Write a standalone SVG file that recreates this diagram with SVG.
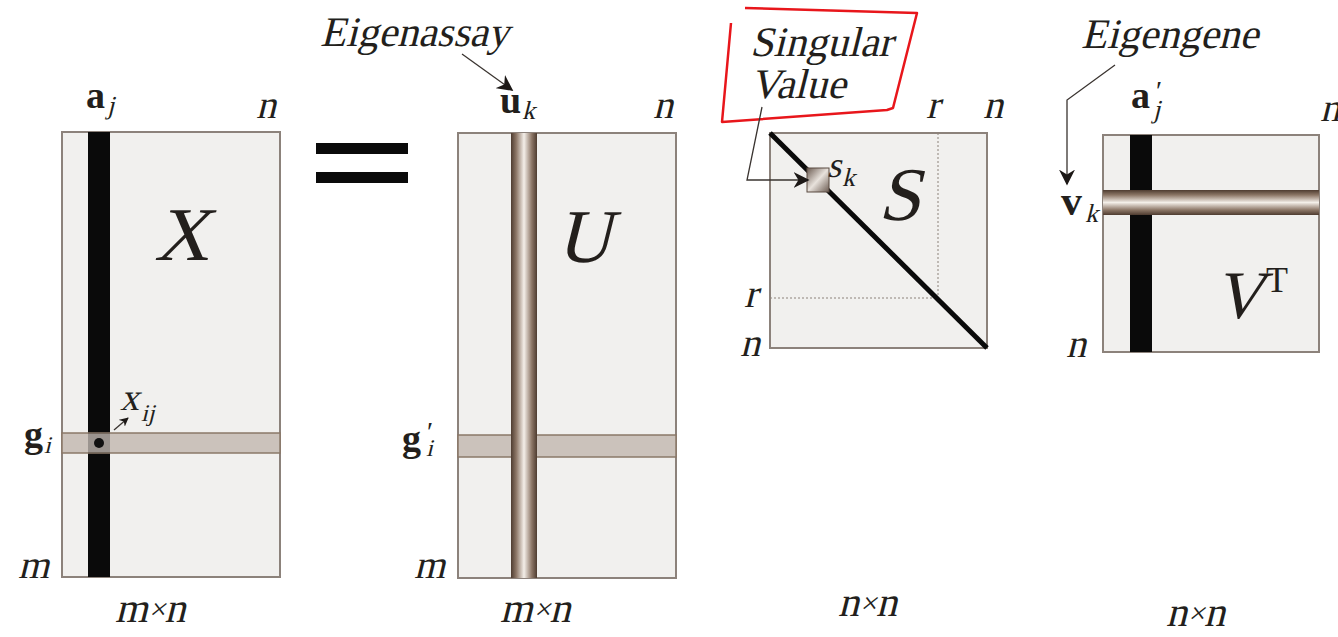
<svg xmlns="http://www.w3.org/2000/svg" width="1338" height="637" viewBox="0 0 1338 637">
<style>
.mat{fill:#f1f0ee;stroke:#8c827b;stroke-width:2}
.it{font-family:'Liberation Serif','Times New Roman',serif;font-style:normal;fill:#231f1c}
.bd{font-family:'Liberation Serif','Times New Roman',serif;font-weight:bold;fill:#231f1c}
.rm{font-family:'Liberation Serif','Times New Roman',serif;font-style:normal;fill:#231f1c}
.band{fill:#cbc2bb;stroke:#8a7868;stroke-width:1.5}
.conn{fill:none;stroke:#3a3430;stroke-width:1.3}
</style>
<defs>
<linearGradient id="gv" x1="0" y1="0" x2="1" y2="0">
<stop offset="0" stop-color="#4e3c30"/><stop offset="0.2" stop-color="#8c7666"/><stop offset="0.5" stop-color="#f4efe9"/><stop offset="0.8" stop-color="#8c7666"/><stop offset="1" stop-color="#4e3c30"/>
</linearGradient>
<linearGradient id="gh" x1="0" y1="0" x2="0" y2="1">
<stop offset="0" stop-color="#4e3c30"/><stop offset="0.2" stop-color="#8c7666"/><stop offset="0.5" stop-color="#f4efe9"/><stop offset="0.8" stop-color="#8c7666"/><stop offset="1" stop-color="#4e3c30"/>
</linearGradient>
<linearGradient id="gs" x1="0" y1="0" x2="1" y2="1">
<stop offset="0" stop-color="#6a5a50"/><stop offset="0.5" stop-color="#e8e2dc"/><stop offset="1" stop-color="#6a5a50"/>
</linearGradient>
<marker id="ah" viewBox="0 0 10 10" refX="9" refY="5" markerWidth="9" markerHeight="9" orient="auto" markerUnits="userSpaceOnUse">
<path d="M0,0 L10,5 L0,10 L3,5 Z" fill="#1c1816"/>
</marker>
<marker id="ahb" viewBox="0 0 10 10" refX="9" refY="5" markerWidth="16" markerHeight="16" orient="auto" markerUnits="userSpaceOnUse">
<path d="M0,0 L10,5 L0,10 L3,5 Z" fill="#1c1816"/>
</marker>
</defs>

<g id="matrix-X">
<rect class="mat" x="62" y="132" width="218" height="445"/>
<rect x="88" y="132" width="22" height="445" fill="#0a0a0a"/>
<rect class="band" x="62" y="433" width="218" height="20"/>
<rect x="88" y="433" width="22" height="20" fill="#0a0a0a" opacity="0.25"/>
<circle cx="99" cy="443" r="5" fill="#111"/>
<text class="it" transform="translate(154,260) skewX(-14)" font-size="76">X</text>
<text class="bd" x="86" y="108" font-size="38">a</text>
<text class="it" transform="translate(107,114) skewX(-14)" font-size="26">j</text>
<text class="it" transform="translate(256,118) skewX(-14)" font-size="40">n</text>
<text class="it" transform="translate(120,410) skewX(-14)" font-size="38">x</text>
<text class="it" transform="translate(141,421) skewX(-14)" font-size="24">ij</text>
<text class="bd" x="24" y="447" font-size="38">g</text>
<text class="it" transform="translate(44,453) skewX(-14)" font-size="24">i</text>
<text class="it" transform="translate(18,578) skewX(-14)" font-size="40">m</text>
<text class="it" transform="translate(115,622) skewX(-14)" font-size="42">m<tspan class="rm" font-size="30" dy="-3">×</tspan><tspan dy="3">n</tspan></text>
</g>

<g id="equals">
<rect x="316" y="143" width="92" height="11" fill="#0a0a0a"/>
<rect x="316" y="172" width="92" height="11" fill="#0a0a0a"/>
</g>

<g id="matrix-U">
<rect class="mat" x="458" y="133" width="218" height="445"/>
<rect class="band" x="458" y="435" width="218" height="22"/>
<rect x="511" y="133" width="26" height="445" fill="url(#gv)"/>
<text class="it" transform="translate(556,262) skewX(-14)" font-size="76">U</text>
<text class="bd" x="500" y="113" font-size="38">u</text>
<text class="it" transform="translate(522,119) skewX(-14)" font-size="26">k</text>
<text class="it" transform="translate(653,118) skewX(-14)" font-size="40">n</text>
<text class="bd" x="402" y="451" font-size="38">g</text>
<text class="rm" x="427" y="441" font-size="28">′</text>
<text class="it" transform="translate(426,456) skewX(-14)" font-size="24">i</text>
<text class="it" transform="translate(414,578) skewX(-14)" font-size="40">m</text>
<text class="it" transform="translate(500,622) skewX(-14)" font-size="42">m<tspan class="rm" font-size="30" dy="-3">×</tspan><tspan dy="3">n</tspan></text>
<text class="it" transform="translate(320,46) skewX(-14)" font-size="42">Eigenassay</text>
</g>

<g id="matrix-S">
<rect class="mat" x="770" y="133" width="217" height="215"/>
<line x1="938" y1="133" x2="938" y2="298" stroke="#8c827b" stroke-width="1" stroke-dasharray="2,2"/>
<line x1="770" y1="298" x2="938" y2="298" stroke="#8c827b" stroke-width="1" stroke-dasharray="2,2"/>
<line x1="770" y1="133" x2="987" y2="348" stroke="#0a0a0a" stroke-width="5"/>
<rect x="807" y="168" width="22" height="24" fill="url(#gs)" stroke="#5a4a40" stroke-width="1"/>
<text class="it" transform="translate(878,220) skewX(-14)" font-size="76">S</text>
<text class="it" transform="translate(827,177) skewX(-14)" font-size="36">s</text>
<text class="it" transform="translate(842,186) skewX(-14)" font-size="26">k</text>
<text class="it" transform="translate(926,118) skewX(-14)" font-size="40">r</text>
<text class="it" transform="translate(983,118) skewX(-14)" font-size="40">n</text>
<text class="it" transform="translate(744,307) skewX(-14)" font-size="40">r</text>
<text class="it" transform="translate(740,356) skewX(-14)" font-size="40">n</text>
<text class="it" transform="translate(838,616) skewX(-14)" font-size="42">n<tspan class="rm" font-size="30" dy="-3">×</tspan><tspan dy="3">n</tspan></text>
<text class="it" transform="translate(750,56) skewX(-14)" font-size="42">Singular</text>
<text class="it" transform="translate(750,98) skewX(-14)" font-size="42">Value</text>
<path d="M745,8 L917,13 L893,108 L887,110 L722,122 L731,23" fill="none" stroke="#e8161b" stroke-width="2.5" stroke-linejoin="round"/>
</g>

<g id="matrix-VT">
<rect class="mat" x="1103" y="135" width="216" height="217"/>
<rect x="1130" y="135" width="22" height="217" fill="#0a0a0a"/>
<rect x="1103" y="190" width="216" height="25" fill="url(#gh)"/>
<text class="it" transform="translate(1214,318) skewX(-14)" font-size="68">V</text>
<text class="rm" x="1266" y="292" font-size="36">T</text>
<text class="bd" x="1131" y="108" font-size="38">a</text>
<text class="rm" x="1156" y="100" font-size="28">′</text>
<text class="it" transform="translate(1153,118) skewX(-14)" font-size="26">j</text>
<text class="it" transform="translate(1320,121) skewX(-14)" font-size="40">n</text>
<text class="bd" x="1061" y="215" font-size="42">v</text>
<text class="it" transform="translate(1085,222) skewX(-14)" font-size="26">k</text>
<text class="it" transform="translate(1066,357) skewX(-14)" font-size="40">n</text>
<text class="it" transform="translate(1166,626) skewX(-14)" font-size="42">n<tspan class="rm" font-size="30" dy="-3">×</tspan><tspan dy="3">n</tspan></text>
<text class="it" transform="translate(1081,48) skewX(-14)" font-size="42">Eigengene</text>
</g>

<g id="connectors">
<path class="conn" d="M462,54 L512,90" marker-end="url(#ahb)"/>
<path class="conn" d="M762,107 L747,180 L808,180" marker-end="url(#ahb)"/>
<path class="conn" d="M1115,65 L1067,100 L1067,184" marker-end="url(#ahb)"/>
<path class="conn" d="M114,430 L128,418" marker-end="url(#ah)" stroke-width="1.6"/>
</g>
</svg>
